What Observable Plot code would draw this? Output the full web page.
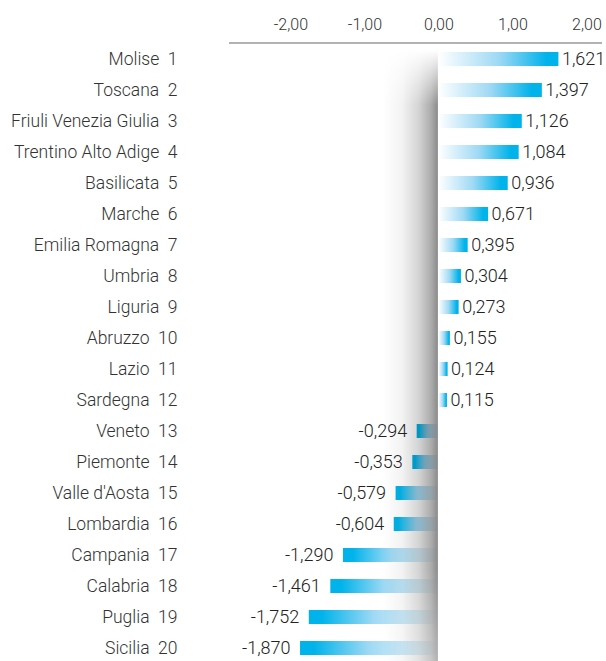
<!DOCTYPE html>
<html>
<head>
<meta charset="utf-8">
<script src="https://cdn.jsdelivr.net/npm/d3@7"></script>
<script src="https://cdn.jsdelivr.net/npm/@observablehq/plot@0.6"></script>
<style>
  html, body { margin: 0; padding: 0; background: #fff; }
  #chart svg { display: block; }
</style>
</head>
<body>
<div id="chart"></div>
<script>
const regions = ["Molise","Toscana","Friuli Venezia Giulia","Trentino Alto Adige","Basilicata","Marche","Emilia Romagna","Umbria","Liguria","Abruzzo","Lazio","Sardegna","Veneto","Piemonte","Valle d'Aosta","Lombardia","Campania","Calabria","Puglia","Sicilia"];
const ranks = [1,2,3,4,5,6,7,8,9,10,11,12,13,14,15,16,17,18,19,20];
const values = [1.621,1.397,1.126,1.084,0.936,0.671,0.395,0.304,0.273,0.155,0.124,0.115,-0.294,-0.353,-0.579,-0.604,-1.290,-1.461,-1.752,-1.870];
const xTicks = [-2,-1,0,1,2];

const data = regions.map((name, i) => ({name, rank: ranks[i], value: values[i]}));
const rankOf = new Map(data.map(d => [d.name, d.rank]));
const pos = data.filter(d => d.value >= 0);
const neg = data.filter(d => d.value < 0);
const fmt = (v, n) => v.toFixed(n).replace(".", ",");

const CYAN = "#00b3ea";

function defsMark() {
  const defs = d3.create("svg:defs");
  const gp = defs.append("linearGradient").attr("id", "gpos").attr("x1", 0).attr("x2", 1).attr("y1", 0).attr("y2", 0);
  gp.append("stop").attr("offset", 0).attr("stop-color", "#ffffff");
  gp.append("stop").attr("offset", 0.5).attr("stop-color", "#9fd9f4");
  gp.append("stop").attr("offset", 0.9).attr("stop-color", CYAN);
  gp.append("stop").attr("offset", 1).attr("stop-color", CYAN);
  const gn = defs.append("linearGradient").attr("id", "gneg").attr("x1", 0).attr("x2", 1).attr("y1", 0).attr("y2", 0);
  gn.append("stop").attr("offset", 0).attr("stop-color", CYAN);
  gn.append("stop").attr("offset", 0.1).attr("stop-color", CYAN);
  gn.append("stop").attr("offset", 0.5).attr("stop-color", "#9fd9f4");
  gn.append("stop").attr("offset", 1).attr("stop-color", "#ffffff");
  const sh = defs.append("linearGradient").attr("id", "shadowH").attr("x1", 0).attr("x2", 1).attr("y1", 0).attr("y2", 0);
  [[0, 0], [0.35, 0.05], [0.65, 0.17], [0.88, 0.33], [1, 0.46]].forEach(([o, a]) =>
    sh.append("stop").attr("offset", o).attr("stop-color", "#000").attr("stop-opacity", a));
  const fv = defs.append("linearGradient").attr("id", "fadeV").attr("x1", 0).attr("x2", 0).attr("y1", 0).attr("y2", 1);
  [[0, "#000"], [0.09, "#fff"], [0.85, "#fff"], [1, "#aaa"]].forEach(([o, c]) =>
    fv.append("stop").attr("offset", o).attr("stop-color", c));
  defs.append("mask").attr("id", "shadowMask").attr("maskContentUnits", "objectBoundingBox")
    .append("rect").attr("x", 0).attr("y", 0).attr("width", 1).attr("height", 1).attr("fill", "url(#fadeV)");
  return defs.node();
}

function shadowMark(index, scales, values, dims) {
  const x0 = scales.x(0);
  const w = 55;
  const top = dims.marginTop + 5;
  return d3.create("svg:rect")
    .attr("x", x0 - w - 0.5).attr("y", top)
    .attr("width", w).attr("height", dims.height - top)
    .attr("fill", "url(#shadowH)")
    .attr("mask", "url(#shadowMask)")
    .node();
}

function axisLine(index, scales, values, dims) {
  return d3.create("svg:line")
    .attr("x1", dims.marginLeft).attr("x2", dims.width - dims.marginRight)
    .attr("y1", dims.marginTop - 2).attr("y2", dims.marginTop - 2)
    .attr("stroke", "#9a9a9a").attr("stroke-width", 1.5)
    .node();
}

const chart = Plot.plot({
  width: 606,
  height: 661,
  marginTop: 45,
  marginLeft: 229,
  marginRight: 4,
  marginBottom: -1,
  style: {fontFamily: "Roboto, sans-serif", fontWeight: 300, color: "#222", background: "#fff"},
  x: {domain: [-2.83, 2.21]},
  y: {domain: regions, paddingInner: 0.55, paddingOuter: 0.226},
  marks: [
    defsMark,
    Plot.barX(pos, {x: "value", y: "name", fill: "url(#gpos)"}),
    Plot.barX(neg, {x: "value", y: "name", fill: "url(#gneg)"}),
    shadowMark,
    Plot.text(pos, {x: "value", y: "name", text: d => fmt(d.value, 3), textAnchor: "start", dx: 3, fontSize: 18, fill: "#222"}),
    Plot.text(neg, {x: "value", y: "name", text: d => fmt(d.value, 3), textAnchor: "end", dx: -10, fontSize: 18, fill: "#222"}),
    axisLine,
    Plot.axisX({anchor: "top", ticks: xTicks, tickSize: 0, tickPadding: 16, tickFormat: d => fmt(d, 2), fontSize: 16, label: null, fill: "#333"}),
    Plot.axisY({tickSize: 0, tickPadding: 52, tickFormat: d => `${d}\u00a0\u00a0${rankOf.get(d)}`, fontSize: 17.5, label: null, fill: "#333"})
  ]
});
document.getElementById("chart").append(chart);
</script>
</body>
</html>
